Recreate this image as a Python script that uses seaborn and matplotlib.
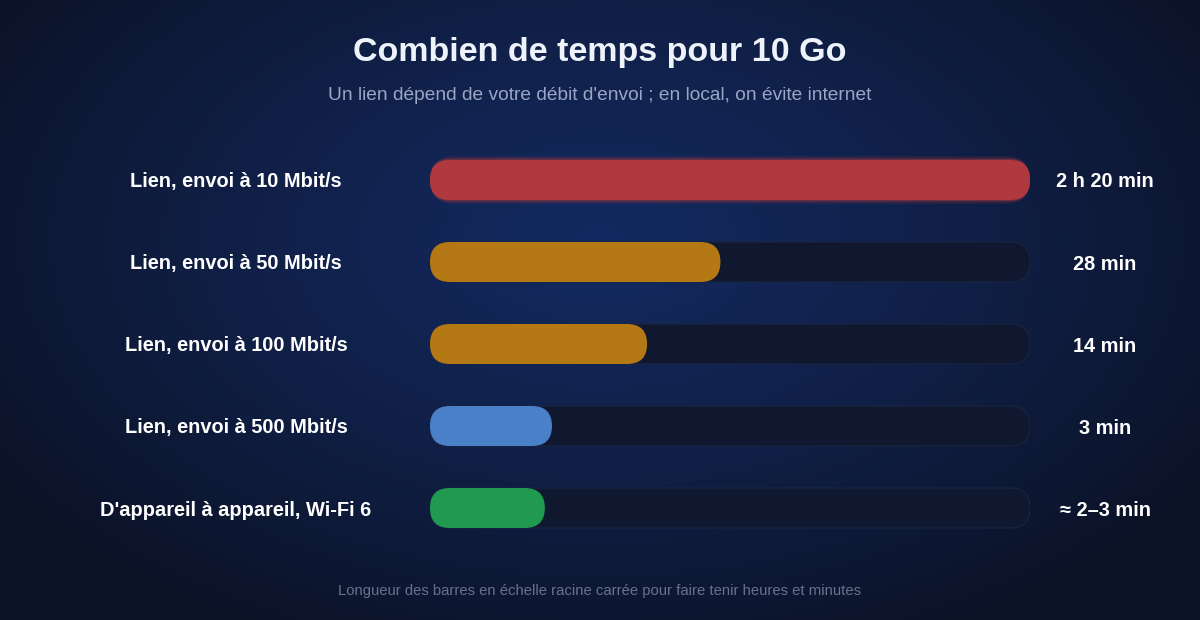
import numpy as np
import pandas as pd
import seaborn as sns
import matplotlib.pyplot as plt
from matplotlib.patches import FancyBboxPatch

# data
labels = [
    "Lien, envoi à 10 Mbit/s",
    "Lien, envoi à 50 Mbit/s",
    "Lien, envoi à 100 Mbit/s",
    "Lien, envoi à 500 Mbit/s",
    "D'appareil à appareil, Wi-Fi 6",
]
minutes = [140, 28, 14, 3, 2.5]
value_labels = ["2 h 20 min", "28 min", "14 min", "3 min", "≈ 2–3 min"]
colors = ["#b0393f", "#b47814", "#b47814", "#4a80c8", "#1f9a50"]

# square-root scale, with a minimum of one rounded cap
TRACK = 600
CAP = 40
widths = [CAP + (TRACK - CAP) * np.sqrt(m / max(minutes)) for m in minutes]
df = pd.DataFrame({"label": labels, "width": widths, "track": TRACK})

sns.set_theme(style="white")
plt.rcParams["font.family"] = ["Liberation Sans", "DejaVu Sans"]

W, H = 1200, 620
fig = plt.figure(figsize=(12, 6.2), dpi=100)

# background radial gradient
bg = fig.add_axes([0, 0, 1, 1])
yy, xx = np.mgrid[0:H, 0:W]
r = np.sqrt(((xx - 600) / 720) ** 2 + ((yy - 240) / 440) ** 2)
r = np.clip(r, 0, 1) ** 1.2
c_in = np.array([0x13, 0x29, 0x5f]) / 255
c_out = np.array([0x0c, 0x13, 0x27]) / 255
img = c_in[None, None, :] * (1 - r[..., None]) + c_out[None, None, :] * r[..., None]
bg.imshow(img, extent=[0, W, H, 0], aspect="auto")
bg.set_xlim(0, W)
bg.set_ylim(H, 0)
bg.axis("off")

# bar axes: x in pixels, one category every 82 px
row0, step, bar_h = 180, 82, 40
left = 430
top = row0 - step / 2
bottom = top + step * len(labels)
ax = fig.add_axes([left / W, 1 - bottom / H, TRACK / W, (bottom - top) / H])
ax.patch.set_alpha(0)

sns.barplot(data=df, x="track", y="label", color="#0f182f", width=bar_h / step,
            saturation=1, ax=ax)
sns.barplot(data=df, x="width", y="label", hue="label", palette=colors,
            width=bar_h / step, saturation=1, legend=False, ax=ax)
ax.set_xlim(0, TRACK)
ax.set_ylim(len(labels) - 0.5, -0.5)
ax.axis("off")

# swap the square bars for rounded ones
aspect = 1 / step
rects = list(ax.patches)
for i, p in enumerate(rects):
    x, y, w, h = p.get_x(), p.get_y(), p.get_width(), p.get_height()
    fc = p.get_facecolor()
    p.remove()
    is_track = i < len(labels)
    if i == len(labels):
        # soft glow on the longest bar
        for k, a in [(4, 0.12), (2.5, 0.2), (1.2, 0.35)]:
            ax.add_patch(FancyBboxPatch(
                (x, y - k / step), w, h + 2 * k / step,
                boxstyle=f"round,pad=0,rounding_size={20 + k}",
                mutation_aspect=aspect, fc=fc, ec="none", alpha=a))
    ax.add_patch(FancyBboxPatch(
        (x, y), w, h, boxstyle="round,pad=0,rounding_size=20",
        mutation_aspect=aspect, fc=fc,
        ec="#1a2542" if is_track else "none", lw=0.8))

# texts
fig.text(0.5, 1 - 52 / H, "Combien de temps pour 10 Go", ha="center", va="center",
         color="#eef2fb", fontsize=24.5, fontweight="bold")
fig.text(0.5, 1 - 96 / H, "Un lien dépend de votre débit d'envoi ; en local, on évite internet",
         ha="center", va="center", color="#9aa6c4", fontsize=13.8)
for i, (lab, val) in enumerate(zip(labels, value_labels)):
    yc = 1 - (row0 + 2 + i * step) / H
    fig.text(236 / W, yc, lab, ha="center", va="center", color="white",
             fontsize=14.4, fontweight="bold")
    fig.text(1105 / W, yc, val, ha="center", va="center", color="white",
             fontsize=14.4, fontweight="bold")
fig.text(0.5, 1 - 591 / H,
         "Longueur des barres en échelle racine carrée pour faire tenir heures et minutes",
         ha="center", va="center", color="#68728c", fontsize=10.7)

fig.savefig("out.png", dpi=100)
